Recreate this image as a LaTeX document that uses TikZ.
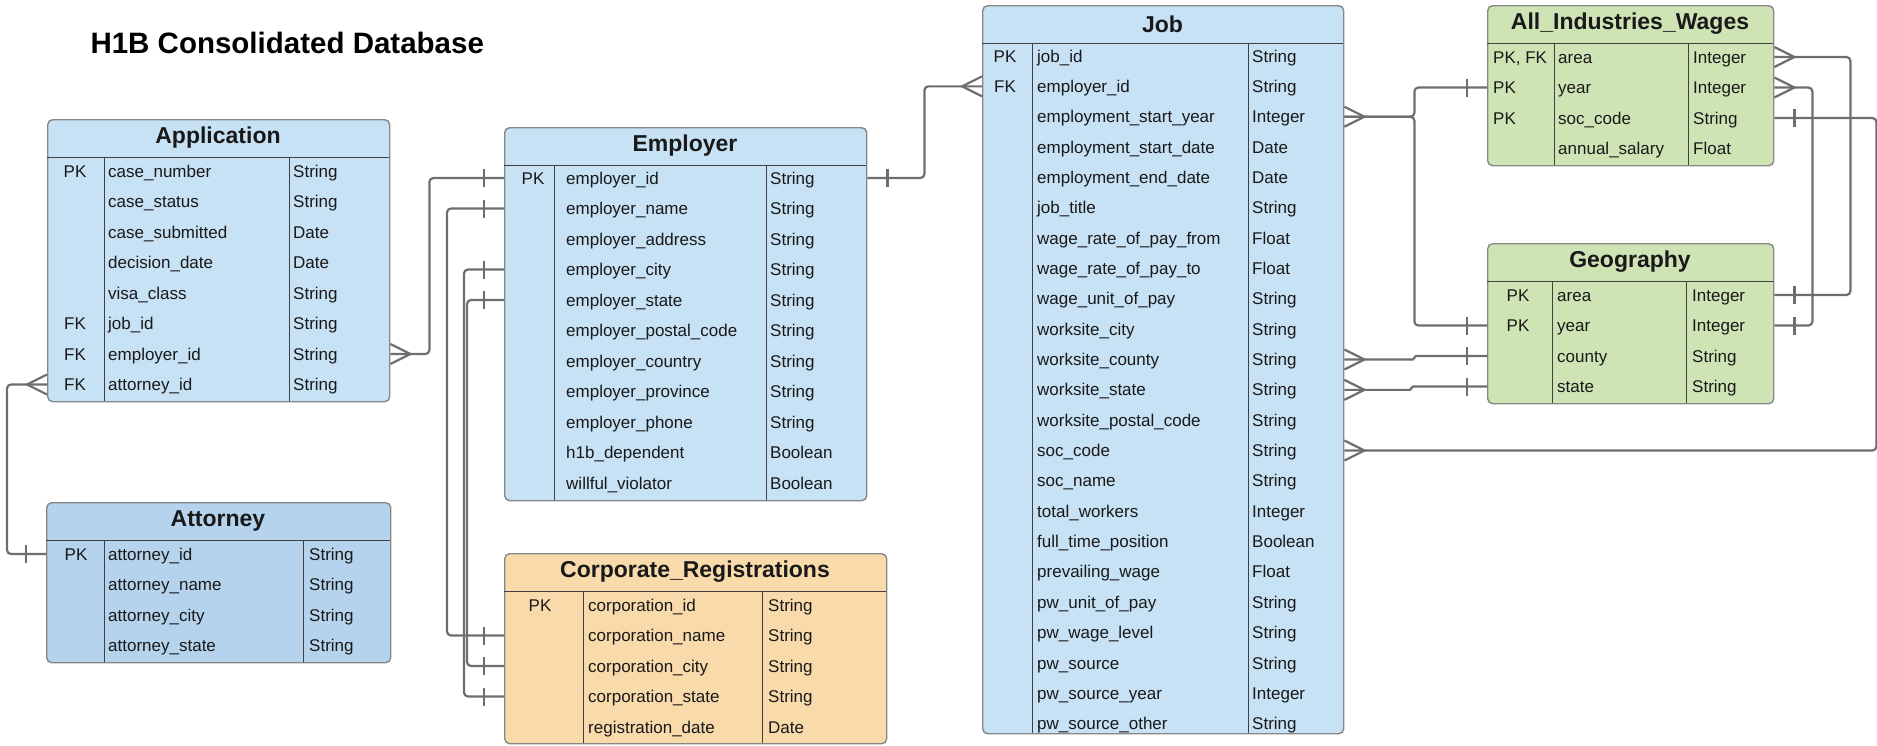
\documentclass[tikz,border=0pt]{standalone}
\usepackage{fontspec}
\setmainfont{Liberation Sans}

\definecolor{appblue}{RGB}{199,225,245}
\definecolor{attblue}{RGB}{181,211,236}
\definecolor{corporange}{RGB}{248,218,171}
\definecolor{wagegreen}{RGB}{207,228,181}
\definecolor{linegray}{RGB}{110,110,110}
\definecolor{boxgray}{RGB}{135,135,135}

% frame of a table: name, fill, left, top, col1, col2, right, bottom, title
\newcommand{\erdtable}[9]{%
  \node[tbl, fill=#2, minimum width={(#7-#3)*1pt}, minimum height={(#8-#4)*1pt}, anchor=north west] (#1) at ({#3},{#4}) {};
  \node[hdr] (#1-title) at ({(#3+#7)/2},{#4+19}) {#9};
  \draw[div] ({#3},{#4+38}) -- ({#7},{#4+38});
  \draw[div] ({#5},{#4+38}) -- ({#5},{#8});
  \draw[div] ({#6},{#4+38}) -- ({#6},{#8});
}
% rows: name, key anchor, key x, field x, type x, first y, pitch, list
\newcommand{\erdrows}[8]{%
  \foreach \k/\f/\t [count=\i] in {#8} {
    \node[cell, anchor=#2] (#1-k\i) at ({#3},{#6+(\i-1)*#7}) {\k};
    \node[cell, anchor=west] (#1-f\i) at ({#4},{#6+(\i-1)*#7}) {\f};
    \node[cell, anchor=west] (#1-t\i) at ({#5},{#6+(\i-1)*#7}) {\t};
  }
}
\newcommand{\manyE}[1]{\draw[tip] #1 ++(0,-10) -- ++(20,10) -- ++(-20,10);}
\newcommand{\manyW}[1]{\draw[tip] #1 ++(0,-10) -- ++(-20,10) -- ++(20,10);}
\newcommand{\oneE}[1]{\draw[tip] #1 ++(20,-9) -- ++(0,18);}
\newcommand{\oneW}[1]{\draw[tip] #1 ++(-20,-9) -- ++(0,18);}

\begin{document}
\begin{tikzpicture}[x=1pt,y=-1pt,
    tbl/.style={draw=boxgray, line width=1.4pt, rounded corners=5pt, inner sep=0pt},
    hdr/.style={font=\fontsize{23}{25}\selectfont\bfseries, text=black!90},
    cell/.style={font=\fontsize{17}{19}\selectfont, text=black!90, inner sep=0pt, text height=14pt, text depth=2pt},
    div/.style={draw=black!75, line width=1pt},
    rel/.style={draw=linegray, line width=2.2pt, rounded corners=4pt},
    tip/.style={draw=linegray, line width=2.2pt}]
  \useasboundingbox (0,0) rectangle (1877,745);

  \node[font=\fontsize{29.5}{31}\selectfont\bfseries, anchor=west] (title) at (87,43) {H1B Consolidated Database};

  \erdtable{app}{appblue}{47}{119}{104}{289}{389}{401}{Application}
  \erdrows{app}{center}{75}{108}{293}{171}{30.5}{PK/case\_number/String, /case\_status/String, /case\_submitted/Date, /decision\_date/Date, /visa\_class/String, FK/job\_id/String, FK/employer\_id/String, FK/attorney\_id/String}

  \erdtable{att}{attblue}{46}{502}{104}{303}{390}{662}{Attorney}
  \erdrows{att}{center}{76}{108}{309}{554}{30.5}{PK/attorney\_id/String, /attorney\_name/String, /attorney\_city/String, /attorney\_state/String}

  \erdtable{emp}{appblue}{504}{127}{554}{766}{866}{500}{Employer}
  \erdrows{emp}{center}{533}{566}{770}{178}{30.5}{PK/employer\_id/String, /employer\_name/String, /employer\_address/String, /employer\_city/String, /employer\_state/String, /employer\_postal\_code/String, /employer\_country/String, /employer\_province/String, /employer\_phone/String, /h1b\_dependent/Boolean, /willful\_violator/Boolean}

  \erdtable{cr}{corporange}{504}{553}{583}{762}{886}{743}{Corporate\_Registrations}
  \erdrows{cr}{center}{540}{588}{768}{605}{30.5}{PK/corporation\_id/String, /corporation\_name/String, /corporation\_city/String, /corporation\_state/String, /registration\_date/Date}

  \erdtable{job}{appblue}{982}{5}{1032}{1248}{1343}{733}{Job}
  \erdrows{job}{center}{1005}{1037}{1252}{56}{30.35}{PK/job\_id/String, FK/employer\_id/String, /employment\_start\_year/Integer, /employment\_start\_date/Date, /employment\_end\_date/Date, /job\_title/String, /wage\_rate\_of\_pay\_from/Float, /wage\_rate\_of\_pay\_to/Float, /wage\_unit\_of\_pay/String, /worksite\_city/String, /worksite\_county/String, /worksite\_state/String, /worksite\_postal\_code/String, /soc\_code/String, /soc\_name/String, /total\_workers/Integer, /full\_time\_position/Boolean, /prevailing\_wage/Float, /pw\_unit\_of\_pay/String, /pw\_wage\_level/String, /pw\_source/String, /pw\_source\_year/Integer, /pw\_source\_other/String}

  \erdtable{aiw}{wagegreen}{1487}{5}{1554}{1688}{1773}{165}{All\_Industries\_Wages}
  \erdrows{aiw}{west}{1493}{1558}{1693}{57}{30.5}{{PK, FK}/area/Integer, PK/year/Integer, PK/soc\_code/String, /annual\_salary/Float}

  \erdtable{geo}{wagegreen}{1487}{243}{1552}{1686}{1773}{403}{Geography}
  \erdrows{geo}{center}{1518}{1557}{1692}{295}{30.5}{PK/area/Integer, PK/year/Integer, /county/String, /state/String}

  % relations
  \draw[rel] (app.east |- app-f7) -- ++(39,0) |- (emp.west |- emp-f1);
  \draw[rel] (app.west |- app-f8) -- ++(-40,0) |- (att.west |- att-f1);
  \draw[rel] (emp.west |- emp-f2) -- ++(-57,0) |- (cr.west |- cr-f2);
  \draw[rel] (emp.west |- emp-f4) -- ++(-40,0) |- (cr.west |- cr-f4);
  \draw[rel] (emp.west |- emp-f5) -- ++(-37,0) |- (cr.west |- cr-f3);
  \draw[rel] (emp.east |- emp-f1) -- ++(57,0) |- (job.west |- job-f2);
  \draw[rel] (job.east |- job-f3) -- ++(70,0) |- (aiw.west |- aiw-f2);
  \draw[rel] (job.east |- job-f3) -- ++(70,0) |- (geo.west |- geo-f2);
  \draw[rel, rounded corners=1.5pt] (job.east |- job-f11) -- ++(70,0) |- (geo.west |- geo-f3);
  \draw[rel, rounded corners=1.5pt] (job.east |- job-f12) -- ++(67,0) |- (geo.west |- geo-f4);
  \draw[rel] (job.east |- job-f14) -- ++(532,0) |- (aiw.east |- aiw-f3);
  \draw[rel] (aiw.east |- aiw-f1) -- ++(76,0) |- (geo.east |- geo-f1);
  \draw[rel] (aiw.east |- aiw-f2) -- ++(38,0) |- (geo.east |- geo-f2);

  \manyE{(app.east |- app-f7)} \oneW{(emp.west |- emp-f1)}
  \manyW{(app.west |- app-f8)} \oneW{(att.west |- att-f1)}
  \oneW{(emp.west |- emp-f2)} \oneW{(cr.west |- cr-f2)}
  \oneW{(emp.west |- emp-f4)} \oneW{(cr.west |- cr-f4)}
  \oneW{(emp.west |- emp-f5)} \oneW{(cr.west |- cr-f3)}
  \oneE{(emp.east |- emp-f1)} \manyW{(job.west |- job-f2)}
  \manyE{(job.east |- job-f3)} \oneW{(aiw.west |- aiw-f2)} \oneW{(geo.west |- geo-f2)}
  \manyE{(job.east |- job-f11)} \oneW{(geo.west |- geo-f3)}
  \manyE{(job.east |- job-f12)} \oneW{(geo.west |- geo-f4)}
  \manyE{(job.east |- job-f14)} \oneE{(aiw.east |- aiw-f3)}
  \manyE{(aiw.east |- aiw-f1)} \oneE{(geo.east |- geo-f1)}
  \manyE{(aiw.east |- aiw-f2)} \oneE{(geo.east |- geo-f2)}
\end{tikzpicture}
\end{document}
